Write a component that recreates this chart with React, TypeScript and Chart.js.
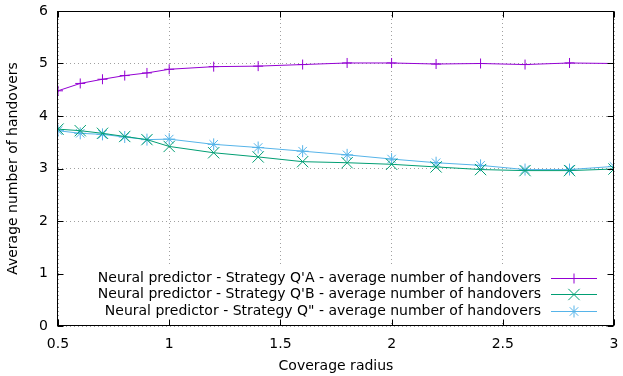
import React, { useEffect, useRef } from 'react';
import { Chart, registerables } from 'chart.js';

Chart.register(...registerables);

const xValues = [0.5, 0.6, 0.7, 0.8, 0.9, 1.0, 1.2, 1.4, 1.6, 1.8, 2.0, 2.2, 2.4, 2.6, 2.8, 3.0];
const seriesQA = [4.48, 4.62, 4.70, 4.77, 4.82, 4.89, 4.94, 4.95, 4.98, 5.01, 5.01, 4.99, 5.0, 4.98, 5.01, 5.0];
const seriesQB = [3.75, 3.72, 3.67, 3.61, 3.55, 3.42, 3.30, 3.22, 3.13, 3.11, 3.08, 3.03, 2.98, 2.96, 2.96, 2.99];
const seriesQpp = [3.72, 3.67, 3.65, 3.60, 3.55, 3.56, 3.46, 3.40, 3.33, 3.26, 3.18, 3.11, 3.06, 2.98, 2.98, 3.04];
const seriesLabels = [
  "Neural predictor - Strategy Q'A - average number of handovers",
  "Neural predictor - Strategy Q'B - average number of handovers",
  'Neural predictor - Strategy Q" - average number of handovers',
];
const seriesColors = ['#9400d3', '#009e73', '#56b4e9'];
const seriesPointStyles = ['cross', 'crossRot', 'star'];
const seriesPointRadius = [5, 8, 6];
const xTicks = [0.5, 1, 1.5, 2, 2.5, 3];
const xTickLabels = ['0.5', '1', '1.5', '2', '2.5', '3'];
const yTicks = [0, 1, 2, 3, 4, 5, 6];
const yTickLabels = ['0', '1', '2', '3', '4', '5', '6'];
const xTitle = 'Coverage radius';
const yTitle = 'Average number of handovers';

const FONT = 'DejaVu Sans';
const FS = 14;

function drawMarker(ctx: CanvasRenderingContext2D, style: string, x: number, y: number, r: number) {
  ctx.beginPath();
  const d = r * Math.SQRT1_2;
  if (style === 'cross' || style === 'star') {
    ctx.moveTo(x - r, y); ctx.lineTo(x + r, y);
    ctx.moveTo(x, y - r); ctx.lineTo(x, y + r);
  }
  if (style === 'crossRot' || style === 'star') {
    ctx.moveTo(x - d, y - d); ctx.lineTo(x + d, y + d);
    ctx.moveTo(x - d, y + d); ctx.lineTo(x + d, y - d);
  }
  ctx.stroke();
}

const gnuplotPlugin = {
  id: 'gnuplotStyle',
  beforeDatasetsDraw(chart: any) {
    const { ctx, chartArea } = chart;
    const { left, right, bottom } = chartArea;
    ctx.save();
    ctx.fillStyle = '#ffffff';
    ctx.fillRect(left + 1, bottom - 59, right - left - 2, 53);
    ctx.restore();
  },
  afterDraw(chart: any) {
    const { ctx, chartArea, scales } = chart;
    const { left, right, top, bottom } = chartArea;
    ctx.save();
    ctx.strokeStyle = '#000';
    ctx.lineWidth = 1;
    const L = Math.round(left) - 0.5, R = Math.round(right) - 0.5;
    const T = Math.round(top) + 0.5, B = Math.round(bottom) - 0.5;
    ctx.strokeRect(L, T, R - L, B - T);
    const tl = 6;
    ctx.beginPath();
    for (const v of xTicks) {
      const px = Math.round(scales.x.getPixelForValue(v)) + 0.5;
      ctx.moveTo(px, B); ctx.lineTo(px, B - tl);
      ctx.moveTo(px, T); ctx.lineTo(px, T + tl);
    }
    for (const v of yTicks) {
      const py = Math.round(scales.y.getPixelForValue(v)) + 0.5;
      ctx.moveTo(L, py); ctx.lineTo(L + tl, py);
      ctx.moveTo(R, py); ctx.lineTo(R - tl, py);
    }
    ctx.stroke();

    // legend
    ctx.font = `${FS}px "${FONT}"`;
    ctx.textAlign = 'right';
    ctx.textBaseline = 'middle';
    const rows = [bottom - 48, bottom - 32, bottom - 15];
    const textRight = right - 73;
    const lineX0 = right - 63, lineX1 = right - 17;
    seriesLabels.forEach((lbl, i) => {
      const y = rows[i];
      ctx.fillStyle = '#000';
      ctx.fillText(lbl, textRight, y);
      ctx.strokeStyle = seriesColors[i];
      ctx.lineWidth = 1;
      ctx.beginPath();
      ctx.moveTo(lineX0, Math.round(y) + 0.5);
      ctx.lineTo(lineX1, Math.round(y) + 0.5);
      ctx.stroke();
      drawMarker(ctx, seriesPointStyles[i], (lineX0 + lineX1) / 2, Math.round(y) + 0.5, seriesPointRadius[i]);
    });
    ctx.restore();
  },
};

export default function App() {
  const ref = useRef<HTMLCanvasElement | null>(null);
  useEffect(() => {
    if (!ref.current) return;
    Chart.defaults.font.family = FONT;
    Chart.defaults.font.size = FS;
    Chart.defaults.color = '#000';
    const series = [seriesQA, seriesQB, seriesQpp];
    const chart = new Chart(ref.current, {
      type: 'line',
      data: {
        datasets: series.map((s, i) => ({
          label: seriesLabels[i],
          data: xValues.map((x, j) => ({ x, y: s[j] })),
          borderColor: seriesColors[i],
          backgroundColor: seriesColors[i],
          borderWidth: 1,
          pointStyle: seriesPointStyles[i] as any,
          pointRadius: seriesPointRadius[i],
          pointBorderWidth: 1,
          pointBorderColor: seriesColors[i],
          pointHoverRadius: seriesPointRadius[i],
          fill: false,
          tension: 0,
        })),
      },
      options: {
        animation: false,
        responsive: false,
        maintainAspectRatio: false,
        layout: { padding: { left: 0, right: 5, top: 11, bottom: 0 } },
        plugins: { legend: { display: false }, tooltip: { enabled: false } },
        scales: {
          x: {
            type: 'linear',
            min: xTicks[0],
            max: xTicks[xTicks.length - 1],
            afterBuildTicks: (s: any) => { s.ticks = xTicks.map((v) => ({ value: v })); },
            afterFit: (s: any) => { s.height = 50; s.paddingLeft = 0; s.paddingRight = 0; },
            ticks: {
              padding: 10, color: '#000', font: { size: FS }, maxRotation: 0, autoSkip: false,
              callback: (v: any) => { const k = xTicks.indexOf(Number(v)); return k >= 0 ? xTickLabels[k] : ''; },
            },
            grid: { color: '#a0a0a0', lineWidth: 1, drawTicks: false },
            border: { display: false, dash: [1, 3] },
            title: { display: true, text: xTitle, color: '#000', font: { size: FS }, padding: { top: 0, bottom: 1 } },
          },
          y: {
            type: 'linear',
            min: yTicks[0],
            max: yTicks[yTicks.length - 1],
            afterBuildTicks: (s: any) => { s.ticks = yTicks.map((v) => ({ value: v })); },
            afterFit: (s: any) => { s.width = 58; s.paddingTop = 0; s.paddingBottom = 0; },
            ticks: {
              padding: 10, color: '#000', font: { size: FS }, autoSkip: false,
              callback: (v: any) => { const k = yTicks.indexOf(Number(v)); return k >= 0 ? yTickLabels[k] : ''; },
            },
            grid: { color: '#a0a0a0', lineWidth: 1, drawTicks: false },
            border: { display: false, dash: [1, 3] },
            title: { display: true, text: yTitle, color: '#000', font: { size: FS }, padding: { top: 5, bottom: 0 } },
          },
        },
      },
      plugins: [gnuplotPlugin],
    });
    return () => chart.destroy();
  }, []);
  return (
    <div style={{ position: 'absolute', left: 0, top: 0, width: 623, height: 376, background: '#fff' }}>
      <canvas ref={ref} width={623} height={376} style={{ width: 623, height: 376, display: 'block' }} />
    </div>
  );
}
